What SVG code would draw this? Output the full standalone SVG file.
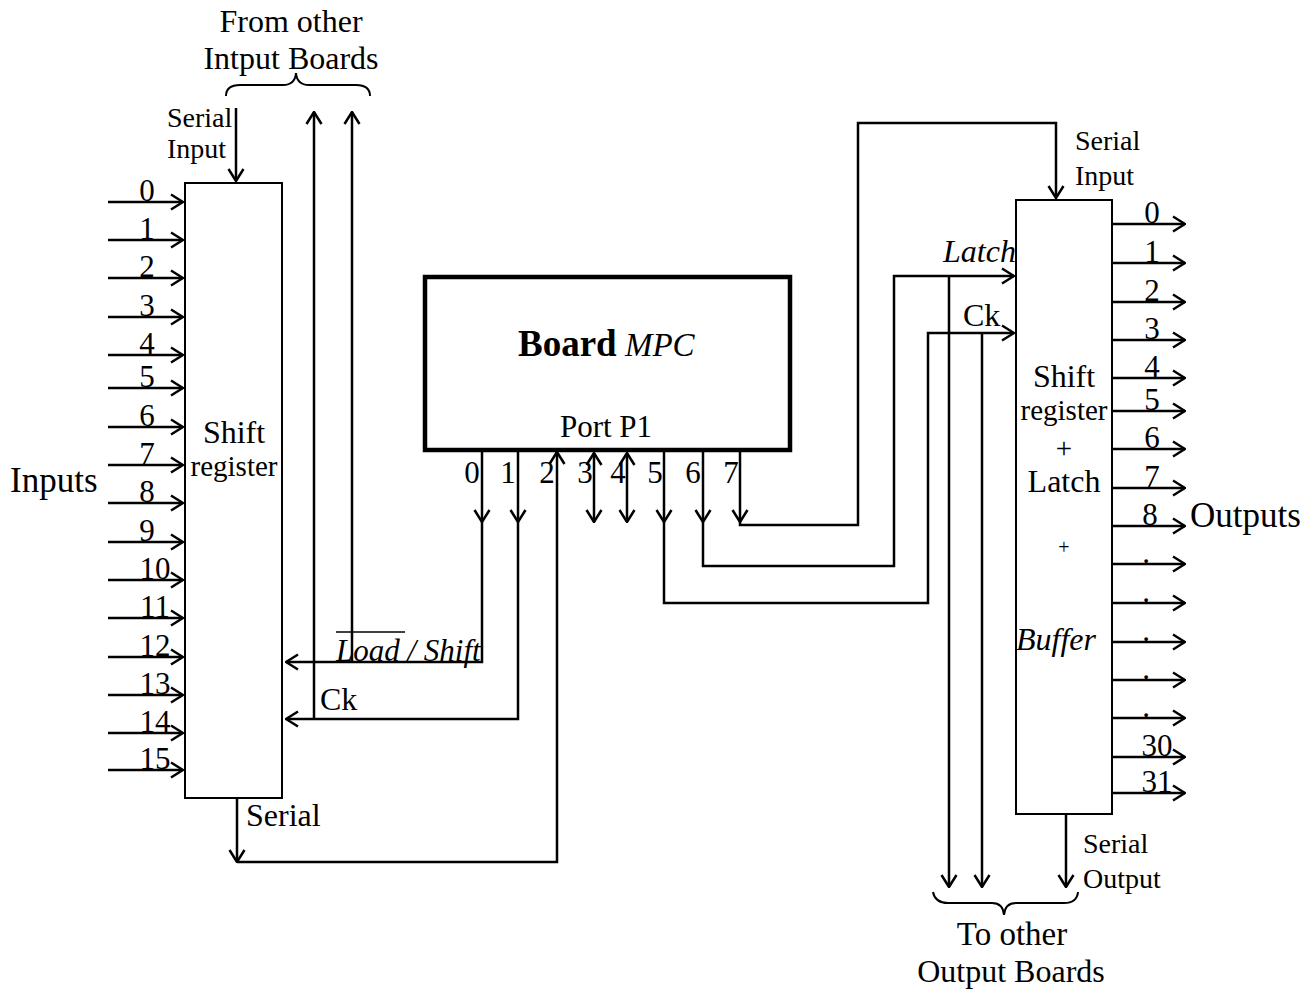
<svg xmlns="http://www.w3.org/2000/svg" width="1316" height="989" viewBox="0 0 1316 989">
<style>
text{font-family:"Liberation Serif","Times New Roman",serif;fill:#000}
.t{font-size:32px}
.s{font-size:28px}
.d{font-size:31px}
.c{text-anchor:middle}
.i{font-style:italic}
.w{fill:none;stroke:#000;stroke-width:2.5}
.a{marker-end:url(#ah)}
.box{fill:#fff;stroke:#000;stroke-width:2}
</style>
<defs>
<marker id="ah" viewBox="0 0 14 18" refX="13" refY="9" markerWidth="14" markerHeight="18" markerUnits="userSpaceOnUse" orient="auto-start-reverse">
<path d="M1,1.5 L13,9 L1,16.5" fill="none" stroke="#000" stroke-width="2.5"/>
</marker>
</defs>
<rect width="1316" height="989" fill="#fff"/>

<g id="connectors">
<!-- left inputs -->
<g class="w a">
<path d="M108,202H183"/><path d="M108,240H183"/><path d="M108,278H183"/><path d="M108,317H183"/>
<path d="M108,355H183"/><path d="M108,388H183"/><path d="M108,427H183"/><path d="M108,465H183"/>
<path d="M108,503H183"/><path d="M108,542H183"/><path d="M108,580H183"/><path d="M108,618H183"/>
<path d="M108,657H183"/><path d="M108,695H183"/><path d="M108,733H183"/><path d="M108,770H183"/>
</g>
<!-- right outputs -->
<g class="w a">
<path d="M1112,224H1185"/><path d="M1112,263H1185"/><path d="M1112,302H1185"/><path d="M1112,340H1185"/>
<path d="M1112,378H1185"/><path d="M1112,411H1185"/><path d="M1112,449H1185"/><path d="M1112,488H1185"/>
<path d="M1112,526H1185"/><path d="M1112,564H1185"/><path d="M1112,603H1185"/><path d="M1112,642H1185"/>
<path d="M1112,680H1185"/><path d="M1112,718H1185"/><path d="M1112,757H1185"/><path d="M1112,793H1185"/>
</g>
<!-- serial input left -->
<path class="w a" d="M236,108V181"/>
<!-- from other input boards -->
<path class="w a" d="M352,662V112"/>
<path class="w a" d="M314,719V112"/>
<!-- pin 0 -->
<path class="w a" d="M482,450V522"/>
<path class="w a" d="M482,522V662H286"/>
<!-- pin 1 -->
<path class="w a" d="M518,450V522"/>
<path class="w a" d="M518,522V719H286"/>
<!-- serial out of left register to pin 2 -->
<path class="w a" d="M237,798V862"/>
<path class="w a" d="M237,862H557V452"/>
<!-- pins 3,4 bidirectional -->
<path class="w a" style="marker-start:url(#ah)" d="M594,453V522"/>
<path class="w a" style="marker-start:url(#ah)" d="M627,453V522"/>
<!-- pin 5 -> Ck -->
<path class="w a" d="M664,450V522"/>
<path class="w a" d="M664,522V603H928V333H1014"/>
<!-- pin 6 -> Latch -->
<path class="w a" d="M703,450V522"/>
<path class="w a" d="M703,522V566H894V276H1014"/>
<!-- pin 7 -> serial input right -->
<path class="w a" d="M740,450V522"/>
<path class="w a" d="M740,522V525H858V123H1056V198"/>
<!-- to other output boards -->
<path class="w a" d="M949,276V887"/>
<path class="w a" d="M982,333V887"/>
<path class="w a" d="M1066,814V887"/>
<!-- braces -->
<path fill="none" stroke="#000" stroke-width="2" d="M226,96 Q226,85 240,85 L283,85 Q295,85 296,73 Q297,85 309,85 L356,85 Q370,85 370,96"/>
<path fill="none" stroke="#000" stroke-width="2" d="M933,892 Q935,903 948,903 L992,903 Q1003,903 1004,915 Q1005,903 1016,903 L1064,903 Q1077,903 1078,892"/>
</g>

<g id="input-register">
<rect class="box" x="185" y="183" width="97" height="615"/>
<text class="t c" x="234" y="443">Shift</text>
<text class="c" font-size="29" x="234" y="476">register</text>
</g>

<g id="board-mpc">
<rect x="425" y="277" width="365" height="173" fill="#fff" stroke="#000" stroke-width="4.5"/>
<text x="518" y="356"><tspan font-weight="bold" font-size="37">Board</tspan><tspan class="i" font-size="33"> MPC</tspan></text>
<text class="c" font-size="31" x="606" y="437">Port P1</text>
</g>

<g id="output-register">
<rect class="box" x="1016" y="200" width="96" height="614"/>
<text class="t c" x="1064" y="387">Shift</text>
<text class="c" font-size="29" x="1064" y="420">register</text>
<text class="c" font-size="29" x="1064" y="458">+</text>
<text class="t c" x="1064" y="492">Latch</text>
<text class="c" font-size="20" x="1064" y="554">+</text>
<text class="t c i" x="1056" y="650">Buffer</text>
</g>

<g id="labels">
<text class="t c" x="291" y="32">From other</text>
<text class="t c" x="291" y="69">Intput Boards</text>
<text class="s" x="167" y="127">Serial</text>
<text class="s" x="167" y="158">Input</text>
<text x="10" y="492" font-size="35">Inputs</text>
<text class="t" x="246" y="826">Serial</text>
<text class="i" font-size="31" x="336" y="661">Load / Shift</text>
<path d="M336,632H405" stroke="#000" stroke-width="1.5"/>
<text class="t" x="320" y="710">Ck</text>
<text class="t i" x="943" y="262">Latch</text>
<text class="t" x="963" y="326">Ck</text>
<text class="s" x="1075" y="150">Serial</text>
<text class="s" x="1075" y="185">Input</text>
<text x="1190" y="527" font-size="35">Outputs</text>
<text class="s" x="1083" y="853">Serial</text>
<text class="s" x="1083" y="888">Output</text>
<text class="c" font-size="33" x="1012" y="945">To other</text>
<text class="t c" x="1011" y="982">Output Boards</text>
<!-- input numbers -->
<g class="d c">
<text x="147" y="201">0</text><text x="147" y="239">1</text><text x="147" y="277">2</text><text x="147" y="316">3</text>
<text x="147" y="354">4</text><text x="147" y="387">5</text><text x="147" y="426">6</text><text x="147" y="464">7</text>
<text x="147" y="502">8</text><text x="147" y="541">9</text><text x="155" y="579">10</text><text x="155" y="617">11</text>
<text x="155" y="656">12</text><text x="155" y="694">13</text><text x="155" y="732">14</text><text x="155" y="769">15</text>
</g>
<!-- output numbers -->
<g class="d c">
<text x="1152" y="223">0</text><text x="1152" y="262">1</text><text x="1152" y="301">2</text><text x="1152" y="339">3</text>
<text x="1152" y="377">4</text><text x="1152" y="410">5</text><text x="1152" y="448">6</text><text x="1152" y="487">7</text>
<text x="1150" y="525">8</text>
<text x="1146" y="563">.</text><text x="1146" y="602">.</text><text x="1146" y="641">.</text><text x="1146" y="679">.</text><text x="1146" y="717">.</text>
<text x="1157" y="756">30</text><text x="1157" y="792">31</text>
</g>
<!-- port pin numbers -->
<g class="d c">
<text x="472" y="483">0</text><text x="508" y="483">1</text><text x="547" y="483">2</text><text x="585" y="483">3</text>
<text x="618" y="483">4</text><text x="655" y="483">5</text><text x="693" y="483">6</text><text x="731" y="483">7</text>
</g>
</g>
</svg>
